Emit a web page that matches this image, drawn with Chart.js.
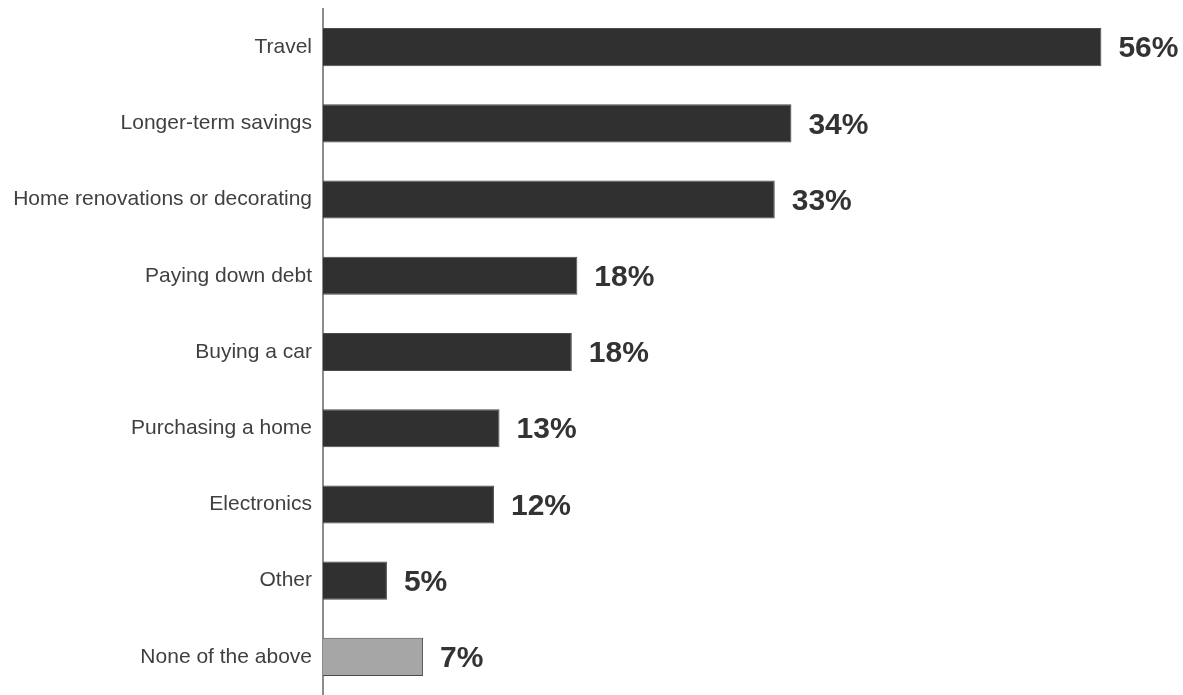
<!DOCTYPE html>
<html>
<head>
<meta charset="utf-8">
<script src="https://cdn.jsdelivr.net/npm/chart.js@4.4.0/dist/chart.umd.min.js"></script>
<style>
  body { margin: 0; background: #fff; }
  #wrap { width: 1183px; height: 695px; }
</style>
</head>
<body>
<div id="wrap"><canvas id="myChart"></canvas></div>
<script>
const categories = ['Travel', 'Longer-term savings', 'Home renovations or decorating', 'Paying down debt',
    'Buying a car', 'Purchasing a home', 'Electronics', 'Other', 'None of the above'];
const shares = [56, 33.7, 32.5, 18.3, 17.9, 12.7, 12.3, 4.6, 7.2];
const shareLabels = ['56%', '34%', '33%', '18%', '18%', '13%', '12%', '5%', '7%'];
const barColors = ['#303030', '#303030', '#303030', '#303030', '#303030', '#303030', '#303030', '#303030', '#a6a6a6'];

// percent text to the right of each bar
const valueLabels = {
    id: 'valueLabels',
    afterDatasetsDraw(chart) {
        const c = chart.ctx;
        const bars = chart.getDatasetMeta(0).data;
        c.save();
        c.font = 'bold 30px "Liberation Sans", Arial, sans-serif';
        c.fillStyle = '#333333';
        c.textAlign = 'left';
        c.textBaseline = 'middle';
        bars.forEach((bar, i) => {
            c.fillText(shareLabels[i], bar.x + 17, bar.y + 2);
        });
        c.restore();
    }
};

const ctx = document.getElementById('myChart').getContext('2d');
const myChart = new Chart(ctx, {
    type: 'bar',
    data: {
        labels: categories,
        datasets: [{
            data: shares,
            backgroundColor: barColors,
            borderColor: '#4a4a4a',
            borderWidth: 1,
            categoryPercentage: 1,
            barPercentage: 0.5
        }]
    },
    options: {
        indexAxis: 'y',
        responsive: true,
        maintainAspectRatio: false,
        animation: false,
        layout: { padding: { top: 9, right: 26, bottom: 0, left: 0 } },
        plugins: { legend: { display: false }, tooltip: { enabled: false } },
        scales: {
            x: { display: false, min: 0, max: 60 },
            y: {
                grid: { display: false, drawTicks: false },
                border: { display: true, color: '#8c8c8c', width: 2 },
                ticks: {
                    color: '#404040',
                    padding: 11,
                    font: { family: '"Liberation Sans", Arial, sans-serif', size: 21 }
                },
                afterFit(scale) {
                    scale.width = 323;
                    scale.paddingTop = 0;
                    scale.paddingBottom = 0;
                }
            }
        }
    },
    plugins: [valueLabels]
});
</script>
</body>
</html>
